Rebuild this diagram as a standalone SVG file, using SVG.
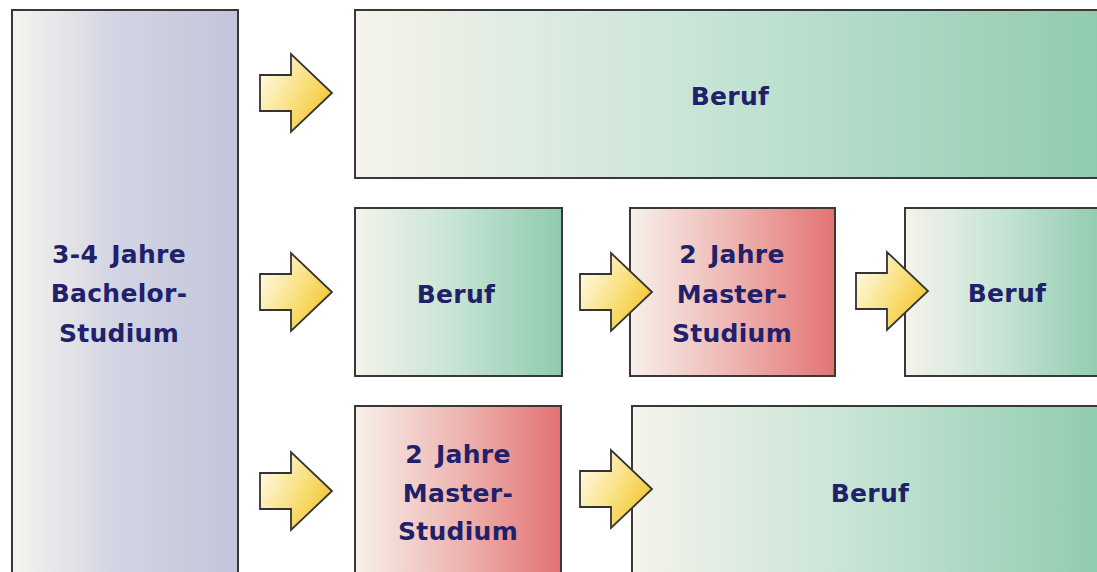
<svg xmlns="http://www.w3.org/2000/svg" width="1097" height="572" viewBox="0 0 1097 572">
<defs>
<linearGradient id="gBlue" x1="0" y1="0" x2="1" y2="0">
<stop offset="0" stop-color="#f6f4ee"/><stop offset="0.45" stop-color="#d4d5e3"/><stop offset="1" stop-color="#c2c5db"/>
</linearGradient>
<linearGradient id="gGreen" x1="0" y1="0" x2="1" y2="0">
<stop offset="0" stop-color="#f5f3ec"/><stop offset="0.5" stop-color="#c4e3d3"/><stop offset="1" stop-color="#8fcbaf"/>
</linearGradient>
<linearGradient id="gRed" x1="0" y1="0" x2="1" y2="0">
<stop offset="0" stop-color="#f7f0ea"/><stop offset="0.5" stop-color="#eeb6b2"/><stop offset="1" stop-color="#e27373"/>
</linearGradient>
<linearGradient id="gArrow" x1="0" y1="0.2" x2="1" y2="0.8">
<stop offset="0" stop-color="#fffbe8"/><stop offset="0.6" stop-color="#f8dc70"/><stop offset="1" stop-color="#f2bf25"/>
</linearGradient>
<path id="arrow" d="M0,-18 L31,-18 L31,-39 L72,0 L31,39 L31,18 L0,18 Z"/>
</defs>
<style>
.box{stroke:#383838;stroke-width:2}
.blue{fill:url(#gBlue)}
.green{fill:url(#gGreen)}
.red{fill:url(#gRed)}
.lbl{font-family:"DejaVu Sans",Verdana,sans-serif;font-weight:bold;font-size:25px;fill:#1f216a;text-anchor:middle;word-spacing:4px;letter-spacing:0.3px}
.arr{fill:url(#gArrow);stroke:#333;stroke-width:1.8;stroke-linejoin:miter}
</style>
<rect width="1097" height="572" fill="#ffffff"/>
<g id="bachelor">
<rect class="box blue" x="12" y="10" width="226" height="575"/>
<text class="lbl" x="119" y="263">3-4 Jahre</text>
<text class="lbl" x="119" y="302">Bachelor-</text>
<text class="lbl" x="119" y="342">Studium</text>
</g>
<g id="beruf1">
<rect class="box green" x="355" y="10" width="750" height="168"/>
<text class="lbl" x="730" y="105">Beruf</text>
</g>
<g id="beruf2">
<rect class="box green" x="355" y="208" width="207" height="168"/>
<text class="lbl" x="456" y="303">Beruf</text>
</g>
<g id="master2">
<rect class="box red" x="630" y="208" width="205" height="168"/>
<text class="lbl" x="732" y="263">2 Jahre</text>
<text class="lbl" x="732" y="303">Master-</text>
<text class="lbl" x="732" y="342">Studium</text>
</g>
<g id="beruf3">
<rect class="box green" x="905" y="208" width="200" height="168"/>
<text class="lbl" x="1007" y="302">Beruf</text>
</g>
<g id="master3">
<rect class="box red" x="355" y="406" width="206" height="180"/>
<text class="lbl" x="458" y="463">2 Jahre</text>
<text class="lbl" x="458" y="502">Master-</text>
<text class="lbl" x="458" y="540">Studium</text>
</g>
<g id="beruf4">
<rect class="box green" x="632" y="406" width="473" height="180"/>
<text class="lbl" x="870" y="502">Beruf</text>
</g>
<g id="connectors">
<use href="#arrow" class="arr" transform="translate(260,93)"/>
<use href="#arrow" class="arr" transform="translate(260,292)"/>
<use href="#arrow" class="arr" transform="translate(580,292)"/>
<use href="#arrow" class="arr" transform="translate(856,291)"/>
<use href="#arrow" class="arr" transform="translate(260,491)"/>
<use href="#arrow" class="arr" transform="translate(580,489)"/>
</g>
</svg>
